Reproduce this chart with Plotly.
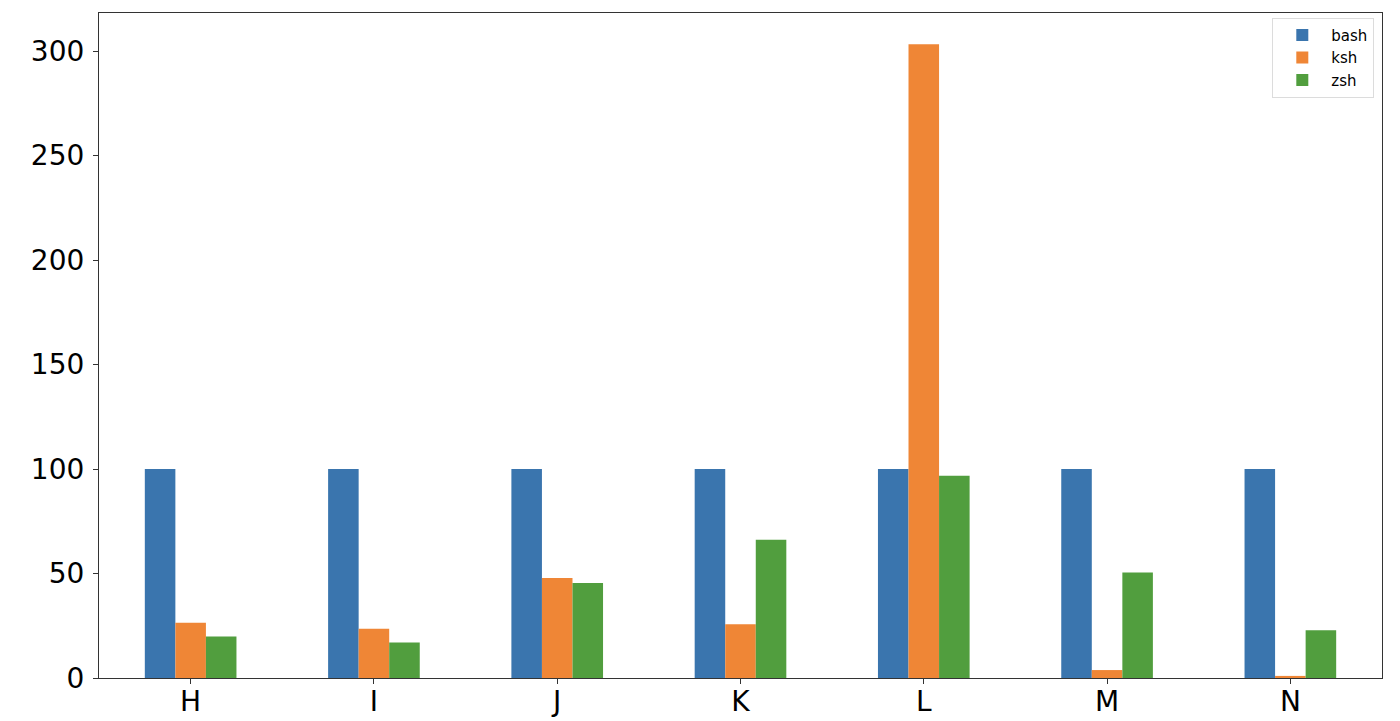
import plotly.graph_objects as go

# categories and values
categories = ['H', 'I', 'J', 'K', 'L', 'M', 'N']
bash = [100, 100, 100, 100, 100, 100, 100]
ksh = [26.4, 23.6, 47.8, 25.7, 303.3, 3.8, 1.0]
zsh = [19.8, 17.0, 45.5, 66.1, 96.8, 50.5, 22.8]

colors = {'bash': '#3a75ae', 'ksh': '#ef8636', 'zsh': '#519e3e'}

fig = go.Figure()
for name, vals in [('bash', bash), ('ksh', ksh), ('zsh', zsh)]:
    fig.add_trace(go.Bar(x=categories, y=vals, name=name,
                         marker=dict(color=colors[name], line=dict(width=0))))

# page body has an 8px margin, so the margins below are shifted to compensate
fig.update_layout(
    width=1400, height=721,
    barmode='group', bargap=0.5, bargroupgap=0,
    plot_bgcolor='white', paper_bgcolor='white',
    margin=dict(l=91, r=26, t=5, b=51),
    font=dict(family='DejaVu Sans', color='black'),
    showlegend=True,
    legend=dict(x=0.994, y=0.993, xanchor='right', yanchor='top',
                bordercolor='#dcdcdc', borderwidth=1, bgcolor='white',
                font=dict(size=15), itemwidth=48, tracegroupgap=0),
)

axis_style = dict(showline=True, linecolor='#333333', linewidth=1.2, mirror=True,
                  showgrid=False, zeroline=False, ticks='outside', ticklen=5,
                  tickcolor='#333333', tickfont=dict(size=28), automargin=False)
fig.update_xaxes(range=[-0.5, 6.5], ticklabelstandoff=-7, **axis_style)
fig.update_yaxes(range=[0, 318.2], tickvals=[0, 50, 100, 150, 200, 250, 300],
                 ticklabelstandoff=3, **axis_style)

fig.write_html("out.html")
